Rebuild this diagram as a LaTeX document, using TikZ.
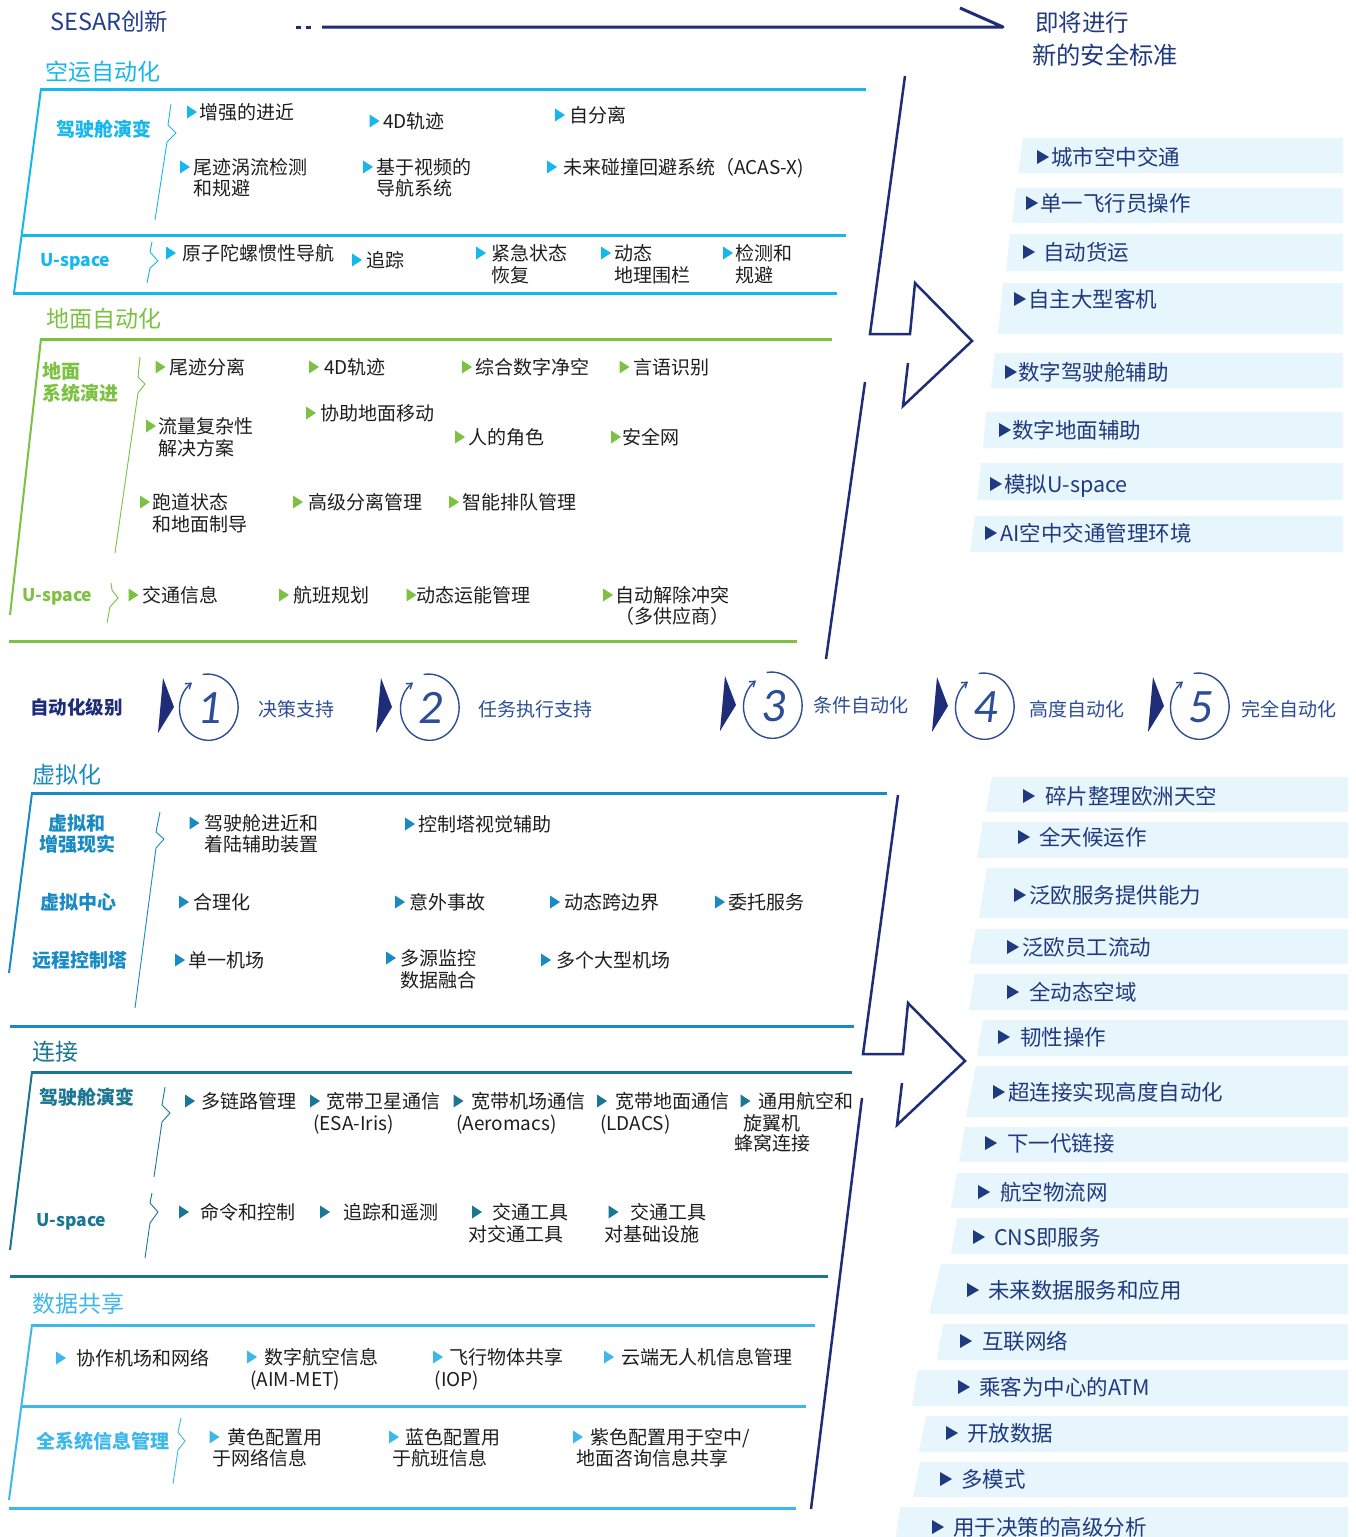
\documentclass[tikz,border=0pt]{standalone}
\usepackage{fontspec}
\setmainfont{Noto Sans CJK SC}
\newfontfamily\numfont{Carlito}
\usetikzlibrary{arrows.meta}
\definecolor{navy}{RGB}{31,44,120}
\definecolor{rnavy}{RGB}{32,58,128}
\definecolor{titlenavy}{RGB}{35,62,140}
\definecolor{lvl}{RGB}{45,78,150}
\definecolor{cyanA}{RGB}{22,183,236}
\definecolor{greenG}{RGB}{124,193,66}
\definecolor{blueV}{RGB}{24,138,196}
\definecolor{tealC}{RGB}{26,118,146}
\definecolor{cyanD}{RGB}{62,183,235}
\definecolor{boxfill}{RGB}{231,245,252}
\definecolor{bodytext}{RGB}{30,30,30}
\newcommand\mytri[3]{\fill[#1] (#2,#3-6.5) -- (#2+10,#3) -- (#2,#3+6.5) -- cycle;}
\newcommand\redge{1343}
\newcommand\myrbox[9]{%
  \fill[boxfill] (#4,#2) -- (\redge,#2) -- (\redge,#3) -- (#5,#3) -- cycle;
  \fill[rnavy] (#6,#8-7) -- (#6+12,#8) -- (#6,#8+7) -- cycle;
  \node[rtext] (#1) at (#7,#8) {#9};}
\newcommand\mylvl[5]{% name, tri x0, cx, cy, number
  \fill[navy] (#2+5,#4-30) -- (#2+16,#4-1) -- (#2,#4+25) -- cycle;
  \draw[lvl, line width=1.4pt, -{Straight Barb[length=5pt,width=7pt]}]
    plot[domain=100:-235, samples=90, smooth]
    ({#3+(31-3*(100-\x)/335)*cos(\x)}, {#4-(34-3*(100-\x)/335)*sin(\x)});
  \node[numtxt] (#1) at (#3+2,#4) {#5};}
\begin{document}
\begin{tikzpicture}[x=1pt,y=-1pt,
  fs/.style={font=\fontsize{#1pt}{#1pt}\selectfont, text height=#1*0.88pt, text depth=#1*0.12pt},
  base/.style={inner sep=0pt, anchor=west},
  body/.style={base, fs=19, text=bodytext},
  lab/.style={base, fs=19, font=\bfseries\fontsize{19}{19}\selectfont},
  labu/.style={base, fs=17.5, font=\bfseries\fontsize{17.5}{17.5}\selectfont},
  sect/.style={base, fs=23},
  rtext/.style={base, fs=21.5, text=rnavy},
  lvltxt/.style={base, fs=19, text=lvl},
  numtxt/.style={inner sep=0pt, anchor=center, text=lvl, font=\numfont\itshape\fontsize{48}{48}\selectfont},
  hline/.style={line width=3pt},
  edge/.style={line width=2pt},
  bracel/.style={line width=0.9pt},
  bigarrow/.style={draw=navy, line width=2.5pt, line join=miter},
]
\useasboundingbox (0,0) rectangle (1356,1537);
\fill[white] (0,0) rectangle (1356,1537);

% ---------- title arrow ----------
\node[base, fs=23.5, text=titlenavy] (sesar) at (50,22) {SESAR创新};
\fill[navy] (296,25.5) rectangle (301,28.5);
\fill[navy] (306,25.5) rectangle (311,28.5);
\draw[navy, line width=3pt, line join=round] (322,27) -- (1003,27) -- (960,8);
\node[base, fs=23.5, text=rnavy] (soon1) at (1035,23) {即将进行};
\node[base, fs=24.3, text=rnavy] (soon2) at (1032,55) {新的安全标准};

% ---------- right panel boxes (upper) ----------
\myrbox{r1}{138}{173}{1023}{1018}{1037}{1051}{157}{城市空中交通}
\myrbox{r2}{188}{223}{1016}{1012}{1026}{1040}{203}{单一飞行员操作}
\myrbox{r3}{234}{271}{1010}{1006}{1023}{1043}{252}{自动货运}
\myrbox{r4}{283}{334}{1003}{998}{1014}{1028}{299}{自主大型客机}
\myrbox{r5}{353}{388}{995}{991}{1005}{1018}{372}{数字驾驶舱辅助}
\myrbox{r6}{412}{448}{986}{983}{999}{1012}{430}{数字地面辅助}
\myrbox{r7}{463}{500}{981}{977}{990}{1004}{484}{模拟U-space}
\myrbox{r8}{516}{552}{975}{970}{985}{1000}{533}{AI空中交通管理环境}

% ---------- right panel boxes (lower) ----------
\renewcommand\redge{1348}
\myrbox{s1}{777}{812}{992}{986}{1023}{1045}{796}{碎片整理欧洲天空}
\myrbox{s2}{822}{858}{983}{977}{1018}{1039}{837}{全天候运作}
\myrbox{s3}{868}{918}{987}{979}{1014}{1029}{895}{泛欧服务提供能力}
\myrbox{s4}{929}{964}{976}{969}{1007}{1022}{947}{泛欧员工流动}
\myrbox{s5}{974}{1010}{975}{969}{1007}{1029}{992}{全动态空域}
\myrbox{s6}{1020}{1056}{983}{977}{998}{1020}{1037}{韧性操作}
\myrbox{s7}{1066}{1117}{976}{966}{993}{1008}{1092}{超连接实现高度自动化}
\myrbox{s8}{1127}{1162}{965}{959}{985}{1007}{1143}{下一代链接}
\myrbox{s9}{1173}{1208}{957}{951}{978}{1000}{1192}{航空物流网}
\myrbox{s10}{1218}{1254}{957}{951}{973}{994}{1237}{CNS即服务}
\myrbox{s11}{1264}{1314}{941}{929}{967}{988}{1290}{未来数据服务和应用}
\myrbox{s12}{1324}{1360}{943}{937}{960}{982}{1341}{互联网络}
\myrbox{s13}{1370}{1406}{918}{912}{958}{979}{1387}{乘客为中心的ATM}
\myrbox{s14}{1416}{1452}{926}{919}{946}{967}{1433}{开放数据}
\myrbox{s15}{1462}{1497}{920}{913}{940}{961}{1479}{多模式}
\myrbox{s16}{1507}{1550}{900}{894}{932}{953}{1527}{用于决策的高级分析}

% ---------- big arrows ----------
\draw[bigarrow] (905,76) -- (870,334) -- (910,334) -- (915,283) -- (972,341) -- (903,406) -- (908,363);
\draw[bigarrow] (865,382) -- (826,659);
\draw[bigarrow] (898,795) -- (863,1054) -- (903,1054) -- (908,1003) -- (965,1061) -- (897,1125) -- (902,1083);
\draw[bigarrow] (862,1098) -- (811,1509);

% ---------- air automation ----------
\node[sect, text=cyanA] (airT) at (45,72) {空运自动化};
\draw[cyanA, hline] (40,89) -- (866,89);
\draw[cyanA, edge] (41,89) -- (14,293);
\draw[cyanA, hline] (22,235) -- (846,235);
\draw[cyanA, hline] (13,293) -- (837,293);
\node[lab, text=cyanA] (airL1) at (56,129) {驾驶舱演变};
\node[labu, text=cyanA] (airL2) at (40,260) {U-space};
\draw[cyanA, bracel] (171,104) -- (168,125) -- (176,133) -- (167,142) -- (155,220);
\draw[cyanA, bracel] (152,242) -- (150,252) -- (158,261) -- (150,268) -- (147,283);
\mytri{cyanA}{187}{112}\node[body] (a1) at (199.5,112) {增强的进近};
\mytri{cyanA}{369.5}{121}\node[body] (a2) at (383,121) {4D轨迹};
\mytri{cyanA}{555}{115}\node[body] (a3) at (569,115) {自分离};
\mytri{cyanA}{180}{167}\node[body] (a4) at (193,167) {尾迹涡流检测};
\node[body] (a4b) at (193,188) {和规避};
\mytri{cyanA}{363}{167}\node[body] (a5) at (376,167) {基于视频的};
\node[body] (a5b) at (376,188) {导航系统};
\mytri{cyanA}{547}{167}\node[body] (a6) at (563,167) {未来碰撞回避系统（ACAS-X)};
\mytri{cyanA}{166}{253}\node[body] (a7) at (182,253) {原子陀螺惯性导航};
\mytri{cyanA}{352}{260}\node[body] (a8) at (366,260) {追踪};
\mytri{cyanA}{476}{253}\node[body] (a9) at (491,253) {紧急状态};
\node[body] (a9b) at (491,275) {恢复};
\mytri{cyanA}{601}{253}\node[body] (a10) at (614,253) {动态};
\node[body] (a10b) at (614,275) {地理围栏};
\mytri{cyanA}{723}{253}\node[body] (a11) at (735,253) {检测和};
\node[body] (a11b) at (735,275) {规避};

% ---------- ground automation ----------
\node[sect, text=greenG] (gndT) at (46,319) {地面自动化};
\draw[greenG, hline] (40,339) -- (832,339);
\draw[greenG, edge] (41,339) -- (10,615);
\draw[greenG, hline] (9,641) -- (797,641);
\node[lab, text=greenG] (gL1) at (42,371) {地面};
\node[lab, text=greenG] (gL1b) at (42,393) {系统演进};
\node[labu, text=greenG] (gL2) at (22,595) {U-space};
\draw[greenG, bracel] (140,357) -- (138,377) -- (145,384) -- (138,393) -- (115,553);
\draw[greenG, bracel] (111,583) -- (112,590) -- (118,598) -- (110,607) -- (107,623);
\mytri{greenG}{155.5}{367}\node[body] (g1) at (169,367) {尾迹分离};
\mytri{greenG}{309}{367}\node[body] (g2) at (324,367) {4D轨迹};
\mytri{greenG}{462}{367}\node[body] (g3) at (475,367) {综合数字净空};
\mytri{greenG}{619.5}{367}\node[body] (g4) at (633,367) {言语识别};
\mytri{greenG}{146}{426}\node[body] (g5) at (158,426) {流量复杂性};
\node[body] (g5b) at (158,448) {解决方案};
\mytri{greenG}{306}{413}\node[body] (g6) at (320,413) {协助地面移动};
\mytri{greenG}{455}{437}\node[body] (g7) at (468,437) {人的角色};
\mytri{greenG}{611}{437}\node[body] (g8) at (622,437) {安全网};
\mytri{greenG}{140}{502}\node[body] (g9) at (152,502) {跑道状态};
\node[body] (g9b) at (152,524) {和地面制导};
\mytri{greenG}{293}{502}\node[body] (g10) at (308,502) {高级分离管理};
\mytri{greenG}{449}{502}\node[body] (g11) at (462,502) {智能排队管理};
\mytri{greenG}{128.5}{595}\node[body] (g12) at (142,595) {交通信息};
\mytri{greenG}{279}{595}\node[body] (g13) at (293,595) {航班规划};
\mytri{greenG}{406.5}{595}\node[body] (g14) at (416,595) {动态运能管理};
\mytri{greenG}{603}{595}\node[body] (g15) at (615,595) {自动解除冲突};
\node[body] (g15b) at (615,616) {（多供应商）};

% ---------- automation levels ----------
\node[base, fs=18.5, font=\bfseries\fontsize{18.5}{18.5}\selectfont, text=navy] (lvlT) at (30,707) {自动化级别};
\mylvl{n1}{158}{208}{708}{1}
\mylvl{n2}{376}{429}{708}{2}
\mylvl{n3}{720}{772}{706}{3}
\mylvl{n4}{932}{984}{707}{4}
\mylvl{n5}{1148}{1199}{707}{5}
\node[lvltxt] (l1) at (258,709) {决策支持};
\node[lvltxt] (l2) at (478,709) {任务执行支持};
\node[lvltxt] (l3) at (813,705) {条件自动化};
\node[lvltxt] (l4) at (1029,709) {高度自动化};
\node[lvltxt] (l5) at (1241,709) {完全自动化};

% ---------- virtualisation ----------
\node[sect, text=blueV] (virT) at (32,775) {虚拟化};
\draw[blueV, hline] (31,793) -- (887,793);
\draw[blueV, edge] (32,793) -- (9,973);
\draw[blueV, hline] (10,1026) -- (854,1026);
\node[lab, text=blueV, anchor=center] (vL1) at (77,823) {虚拟和};
\node[lab, text=blueV, anchor=center] (vL1b) at (77,844) {增强现实};
\node[lab, text=blueV] (vL2) at (40,902) {虚拟中心};
\node[lab, text=blueV] (vL3) at (32,960) {远程控制塔};
\draw[blueV, bracel] (160,812) -- (156,832) -- (164,839) -- (156,848) -- (135,1008);
\mytri{blueV}{189.5}{823}\node[body] (v1) at (204,823) {驾驶舱进近和};
\node[body] (v1b) at (204,844) {着陆辅助装置};
\mytri{blueV}{405}{824}\node[body] (v2) at (418,824) {控制塔视觉辅助};
\mytri{blueV}{179}{902}\node[body] (v3) at (193.5,902) {合理化};
\mytri{blueV}{395}{902}\node[body] (v4) at (409,902) {意外事故};
\mytri{blueV}{550}{902}\node[body] (v5) at (564,902) {动态跨边界};
\mytri{blueV}{715}{902}\node[body] (v6) at (728,902) {委托服务};
\mytri{blueV}{175}{960}\node[body] (v7) at (188,960) {单一机场};
\mytri{blueV}{386}{958}\node[body] (v8) at (400,958) {多源监控};
\node[body] (v8b) at (400,980) {数据融合};
\mytri{blueV}{541}{960}\node[body] (v9) at (556,960) {多个大型机场};

% ---------- connectivity ----------
\node[sect, text=tealC] (conT) at (32,1052) {连接};
\draw[tealC, hline] (31,1072) -- (852,1072);
\draw[tealC, edge] (32,1072) -- (10,1250);
\draw[tealC, hline] (10,1276) -- (828,1276);
\node[lab, text=tealC] (cL1) at (39,1097) {驾驶舱演变};
\node[labu, text=tealC] (cL2) at (36,1220) {U-space};
\draw[tealC, bracel] (165,1087) -- (162,1105) -- (170,1113) -- (162,1122) -- (154,1177);
\draw[tealC, bracel] (152,1193) -- (150,1203) -- (158,1212) -- (150,1223) -- (145,1258);
\mytri{tealC}{185}{1101}\node[body] (c1) at (201,1101) {多链路管理};
\mytri{tealC}{310}{1101}\node[body] (c2) at (326,1101) {宽带卫星通信};
\node[body] (c2b) at (313,1123) {(ESA-Iris)};
\mytri{tealC}{453.5}{1101}\node[body] (c3) at (471,1101) {宽带机场通信};
\node[body] (c3b) at (456,1123) {(Aeromacs)};
\mytri{tealC}{597}{1101}\node[body] (c4) at (615,1101) {宽带地面通信};
\node[body] (c4b) at (600,1123) {(LDACS)};
\mytri{tealC}{740.5}{1101}\node[body] (c5) at (758,1101) {通用航空和};
\node[body] (c5b) at (743,1123) {旋翼机};
\node[body] (c5c) at (734,1143) {蜂窝连接};
\mytri{tealC}{179}{1212}\node[body] (c6) at (200,1212) {命令和控制};
\mytri{tealC}{320}{1212}\node[body] (c7) at (343,1212) {追踪和遥测};
\mytri{tealC}{472}{1212}\node[body] (c8) at (492.5,1212) {交通工具};
\node[body] (c8b) at (468,1234) {对交通工具};
\mytri{tealC}{608.5}{1212}\node[body] (c9) at (630,1212) {交通工具};
\node[body] (c9b) at (604,1234) {对基础设施};

% ---------- data sharing ----------
\node[sect, text=cyanD] (datT) at (32,1304) {数据共享};
\draw[cyanD, hline] (31,1325) -- (815,1325);
\draw[cyanD, edge] (32,1325) -- (9,1500);
\draw[cyanD, hline] (22,1406) -- (806,1406);
\draw[cyanD, hline] (9,1508) -- (796,1508);
\node[lab, text=cyanD] (dL1) at (36,1441) {全系统信息管理};
\draw[cyanD, bracel] (181,1418) -- (178,1432) -- (185,1441) -- (178,1450) -- (173,1484);
\mytri{cyanD}{56}{1358}\node[body] (d1) at (76,1358) {协作机场和网络};
\mytri{cyanD}{247}{1357}\node[body] (d2) at (264,1357) {数字航空信息};
\node[body] (d2b) at (250,1379) {(AIM-MET)};
\mytri{cyanD}{433}{1357}\node[body] (d3) at (449.5,1357) {飞行物体共享};
\node[body] (d3b) at (434.5,1379) {(IOP)};
\mytri{cyanD}{604}{1357}\node[body] (d4) at (621,1357) {云端无人机信息管理};
\mytri{cyanD}{209.5}{1437}\node[body] (d5) at (227,1437) {黄色配置用};
\node[body] (d5b) at (212,1458) {于网络信息};
\mytri{cyanD}{389}{1437}\node[body] (d6) at (405,1437) {蓝色配置用};
\node[body] (d6b) at (392,1458) {于航班信息};
\mytri{cyanD}{573}{1437}\node[body] (d7) at (590,1437) {紫色配置用于空中/};
\node[body] (d7b) at (576,1458) {地面咨询信息共享};
\end{tikzpicture}
\end{document}
